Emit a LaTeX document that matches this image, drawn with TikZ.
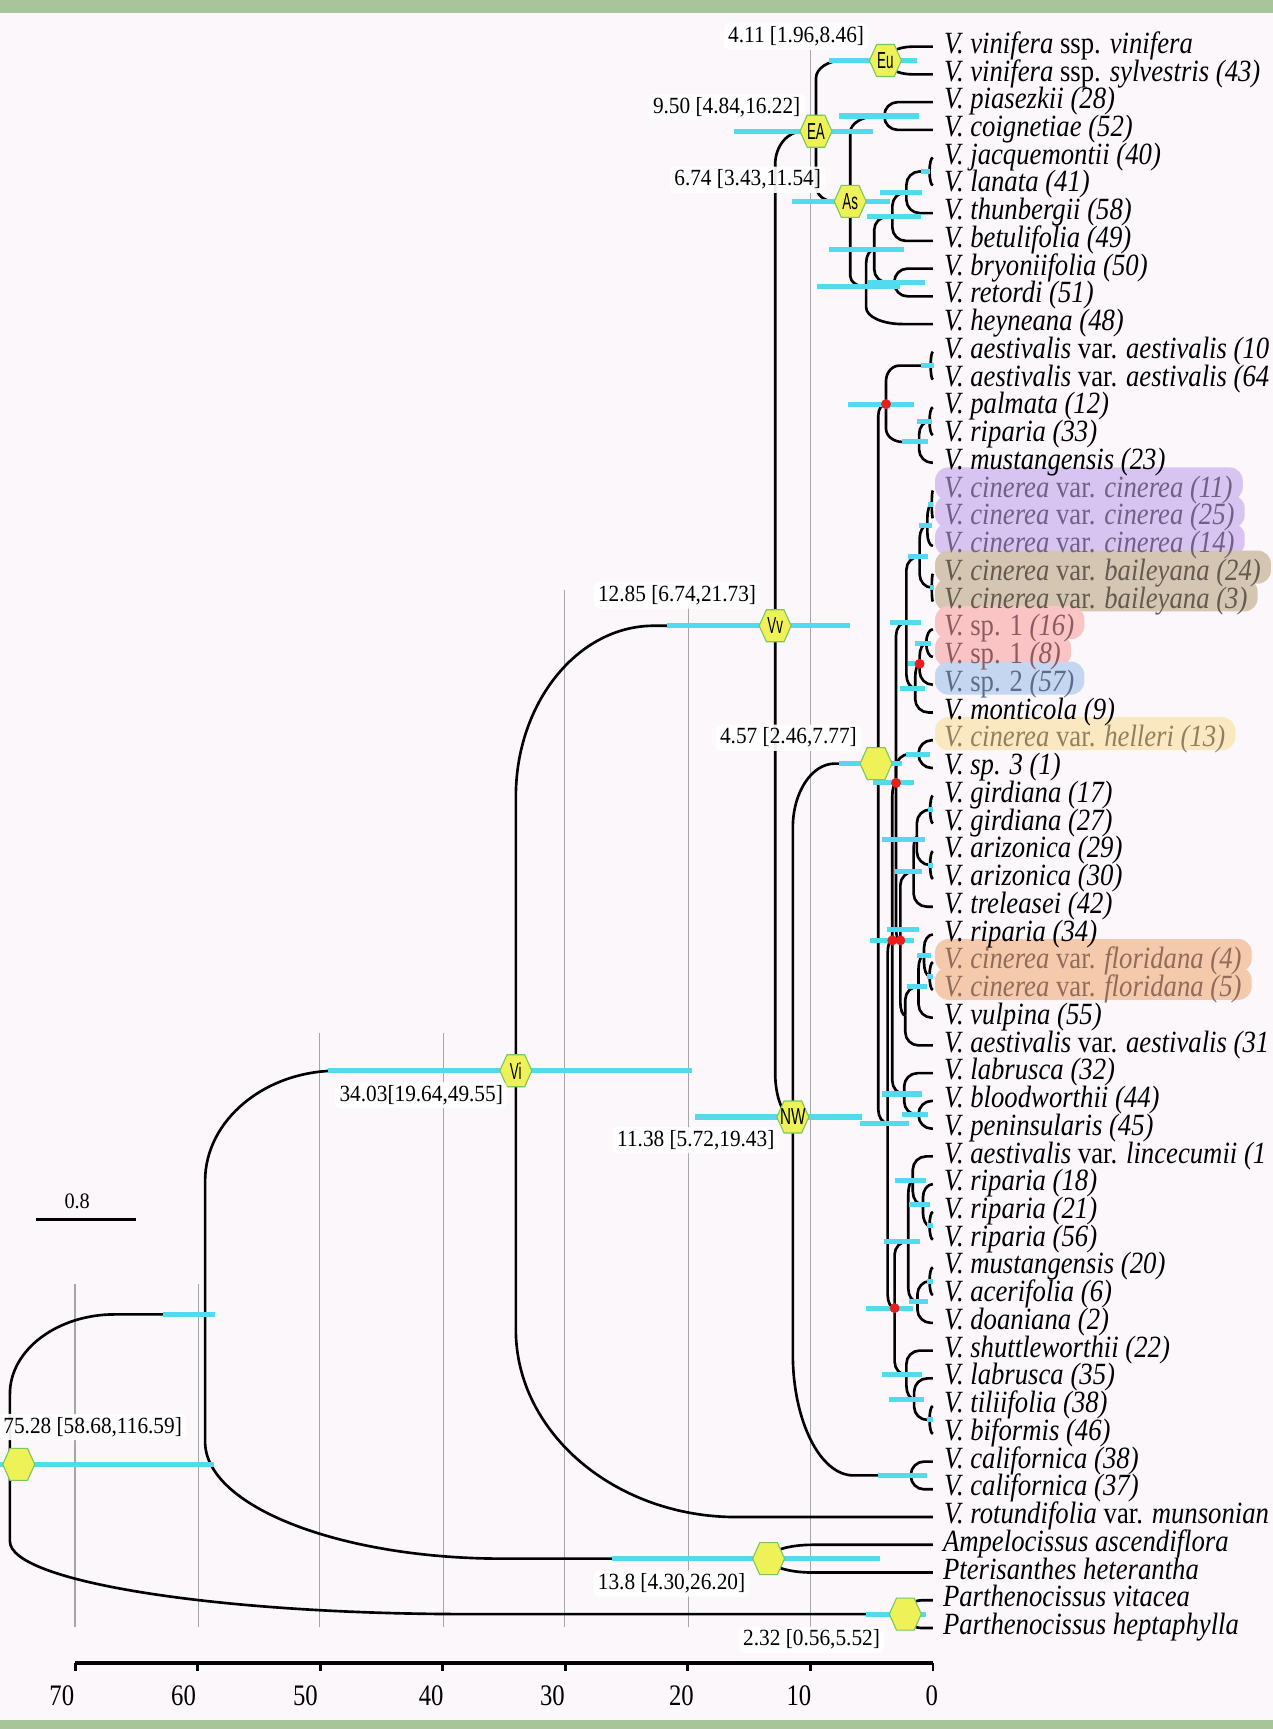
\documentclass[tikz,border=0pt]{standalone}
\usepackage{fontspec}
\setmainfont{Liberation Serif}
\newfontfamily\hexfont{Liberation Sans}
\usetikzlibrary{calc}
\pgfdeclarelayer{bg}
\pgfdeclarelayer{hl}
\pgfsetlayers{bg,hl,main}
\definecolor{bgc}{RGB}{252,247,251}
\definecolor{barg}{RGB}{168,196,154}
\definecolor{cib}{RGB}{82,218,238}
\definecolor{hexf}{RGB}{238,242,88}
\definecolor{hexd}{RGB}{120,200,90}
\definecolor{dotr}{RGB}{236,28,28}
\definecolor{gridc}{RGB}{165,165,172}
\definecolor{hlpur}{RGB}{216,196,240}
\definecolor{hltan}{RGB}{212,198,178}
\definecolor{hlpnk}{RGB}{250,196,196}
\definecolor{hlblu}{RGB}{196,214,240}
\definecolor{hlyel}{RGB}{250,232,192}
\definecolor{hlorg}{RGB}{245,202,172}
\definecolor{txpur}{RGB}{112,96,134}
\definecolor{txtan}{RGB}{100,90,80}
\definecolor{txpnk}{RGB}{140,90,96}
\definecolor{txblu}{RGB}{94,108,138}
\definecolor{txyel}{RGB}{145,128,96}
\definecolor{txorg}{RGB}{145,108,90}
\newcommand\itx[1]{\textit{#1}}
\newcommand\taxt[1]{\scalebox{0.865}[1]{#1}}
\newcommand\numt[1]{\scalebox{0.92}[1]{#1}}
\newcommand\hexat[1]{\filldraw[hexs] ($(#1)+(-14.5,0)$) -- ++(6.5,-14.5) -- ++(16,0) -- ++(6.5,14.5) -- ++(-6.5,14.5) -- ++(-16,0) -- cycle;}
\tikzset{
  blk/.style={line width=2.4pt, line join=round},
  ci/.style={cib, line width=4.6pt},
  br/.style 2 args={to path={let \p1=(\tikztostart), \p2=(\tikztotarget),
      \n1={ifthenelse(\y2>\y1,1,-1)}, \n2={min(#1,\x2-\x1)}, \n3={min(#2,abs(\y2-\y1))} in
      -- (\x1,{\y2-(\n1)*\n3}) .. controls (\x1,{\y2-(\n1)*\n3*0.45}) and ({\x1+\n2*0.45},\y2) .. ({\x1+\n2},\y2) -- (\tikztotarget)}},
  taxon/.style={anchor=base west, inner sep=0pt, font=\fontsize{28}{30}\selectfont},
  numlbl/.style={fill=white, fill opacity=0.92, text opacity=1, rounded corners=5pt, inner xsep=4pt, inner ysep=3pt, font=\fontsize{21}{23}\selectfont},
  hexlbl/.style={inner sep=0pt, font=\hexfont\fontsize{21}{21}\selectfont},
  axlbl/.style={anchor=base, inner sep=0pt, font=\fontsize{27}{29}\selectfont},
  hexs/.style={fill=hexf, draw=hexd, line width=1pt},
  reddot/.style={circle, fill=dotr, inner sep=0pt, minimum size=9pt},
}
\begin{document}
\begin{tikzpicture}[x=1pt,y=-1pt]
\useasboundingbox (0,0) rectangle (1154,1568);
\begin{pgfonlayer}{bg}
\fill[bgc] (0,0) rectangle (1154,1568);
\fill[barg] (0,0) rectangle (1154,11.5);
\fill[barg] (0,1560) rectangle (1154,1568);
\foreach \gx/\gy in {68/1164,180/1164,290/937,402/937,512/535,624/535,735/45}
  \draw[gridc, line width=1pt] (\gx,\gy) -- (\gx,1475.5);
\end{pgfonlayer}
% tips
\foreach \i in {1,...,58} {\coordinate (t\i) at (846,{42.3+(\i-1)*25.16});}
% internal nodes
\coordinate (R0) at (9,1328);
\coordinate (hR) at (17,1328);
\coordinate (N59) at (186,1192);
\coordinate (Np) at (821,1463.8);
\coordinate (Vi) at (467.8,971);
\coordinate (N138) at (697,1413.5);
\coordinate (Vv) at (703,567.5);
\coordinate (EA) at (740,119);
\coordinate (NW) at (719,1013);
\coordinate (Eu) at (803,54.9);
\coordinate (As) at (771,182.6);
\coordinate (PC) at (802,105.2);
\coordinate (AsB) at (785.5,260.1);
\coordinate (N226) at (792.8,226.3);
\coordinate (JLTB) at (809.3,196.5);
\coordinate (JLT) at (822,174.5);
\coordinate (JL) at (843,155.5);
\coordinate (BR) at (811,256.2);
\coordinate (N457) at (796.5,692.5);
\coordinate (hN457) at (794.5,692.5);
\coordinate (CAL) at (826,1338);
\coordinate (N366) at (803.5,366.5);
\coordinate (A1064) at (844,331.6);
\coordinate (PRM) at (833.5,400.8);
\coordinate (PR) at (843,382);
\coordinate (X) at (805,1018.5);
\coordinate (Y) at (809.2,852);
\coordinate (Z) at (812.6,710);
\coordinate (CBSM) at (822,564.3);
\coordinate (CB) at (834,504.6);
\coordinate (C3) at (841,476.3);
\coordinate (C1125) at (845,457.4);
\coordinate (B) at (845,532.9);
\coordinate (SM) at (830,624);
\coordinate (SP) at (834,602);
\coordinate (SS) at (840,583.2);
\coordinate (HS) at (833,683.9);
\coordinate (Q) at (816.5,854);
\coordinate (GAT) at (828.5,790.6);
\coordinate (GA) at (831.5,759);
\coordinate (GG) at (843.5,734.2);
\coordinate (AA) at (843.5,784.5);
\coordinate (RFVA) at (821,921);
\coordinate (RFV) at (833,894.5);
\coordinate (RF) at (838,866.3);
\coordinate (F45) at (843,885.2);
\coordinate (LBP) at (820,992.1);
\coordinate (BP) at (833,1011);
\coordinate (Rr) at (811.3,1186.3);
\coordinate (LRMAD) at (823.7,1125.7);
\coordinate (LR) at (827.8,1070.7);
\coordinate (R1856) at (837,1092.7);
\coordinate (R2156) at (843,1111.6);
\coordinate (MAD) at (832,1180.7);
\coordinate (MA) at (843,1161.9);
\coordinate (SLTB) at (822,1246.8);
\coordinate (LTB) at (829,1268.8);
\coordinate (TB) at (843,1287.7);
% branches with default curve
\foreach \a/\b in {PC/t3,PC/t4,AsB/N226,N226/JLTB,N226/BR,JLTB/JLT,JLTB/t8,JLT/JL,JLT/t7,JL/t5,JL/t6,BR/t9,BR/t10,
  CAL/t52,CAL/t53,A1064/t12,A1064/t13,PRM/PR,PRM/t16,PR/t14,PR/t15,X/Y,X/Rr,Y/Z,Y/LBP,Z/CBSM,Z/HS,Z/Q,
  CBSM/CB,CBSM/SM,CB/C3,CB/B,C3/C1125,C3/t19,C1125/t17,C1125/t18,B/t20,B/t21,SM/SP,SM/t25,SP/SS,SP/t24,SS/t22,SS/t23,
  HS/t26,HS/t27,Q/GAT,Q/RFVA,GAT/GA,GAT/t32,GA/GG,GA/AA,GG/t28,GG/t29,AA/t30,AA/t31,RFVA/RFV,RFVA/t37,RFV/RF,RFV/t36,
  RF/t33,RF/F45,F45/t34,F45/t35,LBP/t38,LBP/BP,BP/t39,BP/t40,Rr/LRMAD,Rr/SLTB,LRMAD/LR,LRMAD/MAD,LR/t41,LR/R1856,
  R1856/t42,R1856/R2156,R2156/t43,R2156/t44,MAD/MA,MAD/t47,MA/t45,MA/t46,SLTB/t48,SLTB/LTB,LTB/t49,LTB/TB,TB/t50,TB/t51}
  \draw[blk] (\a) to[br={12}{12}] (\b);
% branches with own curve sizes
\foreach \a/\b/\rx/\ry in {Eu/t1/25/12.6,Eu/t2/25/12.6,EA/Eu/24/16,EA/As/16/14,As/PC/25/15,As/AsB/15/10,AsB/t11/33/15,
  Vv/EA/25/30,Vv/NW/16/40,NW/N457/38/58,NW/CAL/55/110,N457/N366/7/10,N457/X/9/12,N366/A1064/12/14,N366/PRM/15/12,
  Vi/Vv/125/155,Vi/t54/200/170,N59/Vi/120/100,N59/N138/270/106,N138/t55/40/12.6,N138/t56/40/12.6,
  R0/N59/95/72,R0/Np/415/66,Np/t57/15/12.6,Np/t58/15/12.6}
  \draw[blk] (\a) to[br={\rx}{\ry}] (\b);
% confidence bars
\foreach \a/\b/\y in {0/194/1328,148/195/1192,297/628/970.5,604.6/771/567.5,666/792/119,752/832/55,718/807/183,
  761/833/105.2,835/843/155.5,798/836/174.5,786/835/196.5,752/820/226.3,787/839/256.2,741/816/260.1,
  630/782/1013,780/824/1018.5,761/818/692.5,769/829/366.5,835/847/331.6,832/845/382,818/842/400.8,
  842/846/457.4,833/845/476.3,823.5/841.6/504.6,843/847/532.9,807/835/564.3,830/844/583.2,823/836/602,
  816.5/839/624,822/843/683.9,792/828.6/710,842/846/734.2,800/839/761,842/846/784.5,812/836/790.6,
  804/833/843,789/829/852.8,831.5/844/866.3,841/846/885.2,822.5/840.7/894.5,800/836/992.1,818/842/1011,
  812/839.5/1070.7,824/843/1092.7,841/846/1111.6,802/834.5/1125.7,841/846/1161.9,824/842/1180.7,
  785.5/827.6/1186.3,800/836.5/1246.8,806/838/1268.8,841/846/1287.7,796.5/841/1338,555/798/1413.5,785/840/1463.8}
  \draw[ci] (\a,\y) -- (\b,\y);
% red dots
\node[reddot] (dN366) at (N366) {};
\node[reddot] (dSP) at (SP) {};
\node[reddot] (dZ) at (Z) {};
\node[reddot] (dY) at (809.2,852.8) {};
\node[reddot] (dQ) at (816.5,852.8) {};
\node[reddot] (dR) at (Rr) {};
% hexagons
\hexat{hR}
\hexat{Vi}\hexat{Vv}\hexat{EA}\hexat{Eu}\hexat{As}\hexat{NW}\hexat{hN457}\hexat{N138}\hexat{Np}
\node[hexlbl] (lVi) at (Vi) {\scalebox{0.58}[1]{Vi}};
\node[hexlbl] (lVv) at (Vv) {\scalebox{0.58}[1]{Vv}};
\node[hexlbl] (lEA) at (EA) {\scalebox{0.58}[1]{EA}};
\node[hexlbl] (lEu) at (Eu) {\scalebox{0.58}[1]{Eu}};
\node[hexlbl] (lAs) at (As) {\scalebox{0.58}[1]{As}};
\node[hexlbl] (lNW) at (NW) {\scalebox{0.66}[1]{NW}};
% age labels
\node[numlbl] (lb411) at (722,33) {\numt{4.11 [1.96,8.46]}};
\node[numlbl] (lb950) at (659,97) {\numt{9.50 [4.84,16.22]}};
\node[numlbl] (lb674) at (678,163) {\numt{6.74 [3.43,11.54]}};
\node[numlbl] (lb1285) at (614,540) {\numt{12.85 [6.74,21.73]}};
\node[numlbl] (lb457) at (715,669) {\numt{4.57 [2.46,7.77]}};
\node[numlbl] (lb3403) at (382,993) {\numt{34.03[19.64,49.55]}};
\node[numlbl] (lb1138) at (631,1034) {\numt{11.38 [5.72,19.43]}};
\node[numlbl] (lb7528) at (84,1294) {\numt{75.28 [58.68,116.59]}};
\node[numlbl] (lb138) at (609,1436) {\numt{13.8 [4.30,26.20]}};
\node[numlbl] (lb232) at (736,1487) {\numt{2.32 [0.56,5.52]}};
% scale bar
\coordinate (sb1) at (33,1106);
\coordinate (sb2) at (123,1106);
\draw[line width=3pt] (sb1) -- (sb2);
\node[anchor=base, inner sep=0pt, font=\fontsize{20}{22}\selectfont] (sbl) at (70,1096) {\numt{0.8}};
% axis
\coordinate (ax0) at (846,1508);
\coordinate (ax70) at (68.3,1508);
\draw[line width=3pt] (ax70) -- (ax0);
\foreach \tx in {68.3,179.4,290.5,401.6,512.7,623.8,734.9,846}
  \draw[line width=2.5pt] (\tx,1508) -- (\tx,1515);
\foreach \lx/\lt in {56/70,166.5/60,277/50,391/40,501/30,618/20,724.5/10,845/0}
  \node[axlbl] (al\lt) at (\lx,1546.5) {\scalebox{0.83}[1]{\lt}};
% taxa
\node[taxon] (L1) at ($(t1)+(10,6)$) {\taxt{\itx{V. vinifera} ssp. \itx{vinifera}}};
\node[taxon] (L2) at ($(t2)+(10,6)$) {\taxt{\itx{V. vinifera} ssp. \itx{sylvestris (43)}}};
\node[taxon] (L3) at ($(t3)+(10,6)$) {\taxt{\itx{V. piasezkii (28)}}};
\node[taxon] (L4) at ($(t4)+(10,6)$) {\taxt{\itx{V. coignetiae (52)}}};
\node[taxon] (L5) at ($(t5)+(10,6)$) {\taxt{\itx{V. jacquemontii (40)}}};
\node[taxon] (L6) at ($(t6)+(10,6)$) {\taxt{\itx{V. lanata (41)}}};
\node[taxon] (L7) at ($(t7)+(10,6)$) {\taxt{\itx{V. thunbergii (58)}}};
\node[taxon] (L8) at ($(t8)+(10,6)$) {\taxt{\itx{V. betulifolia (49)}}};
\node[taxon] (L9) at ($(t9)+(10,6)$) {\taxt{\itx{V. bryoniifolia (50)}}};
\node[taxon] (L10) at ($(t10)+(10,6)$) {\taxt{\itx{V. retordi (51)}}};
\node[taxon] (L11) at ($(t11)+(10,6)$) {\taxt{\itx{V. heyneana (48)}}};
\node[taxon] (L12) at ($(t12)+(10,6)$) {\taxt{\itx{V. aestivalis} var. \itx{aestivalis (10}}};
\node[taxon] (L13) at ($(t13)+(10,6)$) {\taxt{\itx{V. aestivalis} var. \itx{aestivalis (64}}};
\node[taxon] (L14) at ($(t14)+(10,6)$) {\taxt{\itx{V. palmata (12)}}};
\node[taxon] (L15) at ($(t15)+(10,6)$) {\taxt{\itx{V. riparia (33)}}};
\node[taxon] (L16) at ($(t16)+(10,6)$) {\taxt{\itx{V. mustangensis (23)}}};
\node[taxon, text=txpur] (L17) at ($(t17)+(10,6)$) {\taxt{\itx{V. cinerea} var. \itx{cinerea (11)}}};
\node[taxon, text=txpur] (L18) at ($(t18)+(10,6)$) {\taxt{\itx{V. cinerea} var. \itx{cinerea (25)}}};
\node[taxon, text=txpur] (L19) at ($(t19)+(10,6)$) {\taxt{\itx{V. cinerea} var. \itx{cinerea (14)}}};
\node[taxon, text=txtan] (L20) at ($(t20)+(10,6)$) {\taxt{\itx{V. cinerea} var. \itx{baileyana (24)}}};
\node[taxon, text=txtan] (L21) at ($(t21)+(10,6)$) {\taxt{\itx{V. cinerea} var. \itx{baileyana (3)}}};
\node[taxon, text=txpnk] (L22) at ($(t22)+(10,6)$) {\taxt{\itx{V.} sp. 1 \itx{(16)}}};
\node[taxon, text=txpnk] (L23) at ($(t23)+(10,6)$) {\taxt{\itx{V.} sp. 1 \itx{(8)}}};
\node[taxon, text=txblu] (L24) at ($(t24)+(10,6)$) {\taxt{\itx{V.} sp. 2 \itx{(57)}}};
\node[taxon] (L25) at ($(t25)+(10,6)$) {\taxt{\itx{V. monticola (9)}}};
\node[taxon, text=txyel] (L26) at ($(t26)+(10,6)$) {\taxt{\itx{V. cinerea} var. \itx{helleri (13)}}};
\node[taxon] (L27) at ($(t27)+(10,6)$) {\taxt{\itx{V. sp. 3 (1)}}};
\node[taxon] (L28) at ($(t28)+(10,6)$) {\taxt{\itx{V. girdiana (17)}}};
\node[taxon] (L29) at ($(t29)+(10,6)$) {\taxt{\itx{V. girdiana (27)}}};
\node[taxon] (L30) at ($(t30)+(10,6)$) {\taxt{\itx{V. arizonica (29)}}};
\node[taxon] (L31) at ($(t31)+(10,6)$) {\taxt{\itx{V. arizonica (30)}}};
\node[taxon] (L32) at ($(t32)+(10,6)$) {\taxt{\itx{V. treleasei (42)}}};
\node[taxon] (L33) at ($(t33)+(10,6)$) {\taxt{\itx{V. riparia (34)}}};
\node[taxon, text=txorg] (L34) at ($(t34)+(10,6)$) {\taxt{\itx{V. cinerea} var. \itx{floridana (4)}}};
\node[taxon, text=txorg] (L35) at ($(t35)+(10,6)$) {\taxt{\itx{V. cinerea} var. \itx{floridana (5)}}};
\node[taxon] (L36) at ($(t36)+(10,6)$) {\taxt{\itx{V. vulpina (55)}}};
\node[taxon] (L37) at ($(t37)+(10,6)$) {\taxt{\itx{V. aestivalis} var. \itx{aestivalis (31}}};
\node[taxon] (L38) at ($(t38)+(10,6)$) {\taxt{\itx{V. labrusca (32)}}};
\node[taxon] (L39) at ($(t39)+(10,6)$) {\taxt{\itx{V. bloodworthii (44)}}};
\node[taxon] (L40) at ($(t40)+(10,6)$) {\taxt{\itx{V. peninsularis (45)}}};
\node[taxon] (L41) at ($(t41)+(10,6)$) {\taxt{\itx{V. aestivalis} var. \itx{lincecumii (1}}};
\node[taxon] (L42) at ($(t42)+(10,6)$) {\taxt{\itx{V. riparia (18)}}};
\node[taxon] (L43) at ($(t43)+(10,6)$) {\taxt{\itx{V. riparia (21)}}};
\node[taxon] (L44) at ($(t44)+(10,6)$) {\taxt{\itx{V. riparia (56)}}};
\node[taxon] (L45) at ($(t45)+(10,6)$) {\taxt{\itx{V. mustangensis (20)}}};
\node[taxon] (L46) at ($(t46)+(10,6)$) {\taxt{\itx{V. acerifolia (6)}}};
\node[taxon] (L47) at ($(t47)+(10,6)$) {\taxt{\itx{V. doaniana (2)}}};
\node[taxon] (L48) at ($(t48)+(10,6)$) {\taxt{\itx{V. shuttleworthii (22)}}};
\node[taxon] (L49) at ($(t49)+(10,6)$) {\taxt{\itx{V. labrusca (35)}}};
\node[taxon] (L50) at ($(t50)+(10,6)$) {\taxt{\itx{V. tiliifolia (38)}}};
\node[taxon] (L51) at ($(t51)+(10,6)$) {\taxt{\itx{V. biformis (46)}}};
\node[taxon] (L52) at ($(t52)+(10,6)$) {\taxt{\itx{V. californica (38)}}};
\node[taxon] (L53) at ($(t53)+(10,6)$) {\taxt{\itx{V. californica (37)}}};
\node[taxon] (L54) at ($(t54)+(10,6)$) {\taxt{\itx{V. rotundifolia} var. \itx{munsonian}}};
\node[taxon] (L55) at ($(t55)+(9,6)$) {\taxt{\itx{Ampelocissus ascendiflora}}};
\node[taxon] (L56) at ($(t56)+(9,6)$) {\taxt{\itx{Pterisanthes heterantha}}};
\node[taxon] (L57) at ($(t57)+(9,6)$) {\taxt{\itx{Parthenocissus vitacea}}};
\node[taxon] (L58) at ($(t58)+(9,6)$) {\taxt{\itx{Parthenocissus heptaphylla}}};
% highlights
\begin{pgfonlayer}{hl}
\foreach \n/\c in {17/hlpur,18/hlpur,19/hlpur,20/hltan,21/hltan,22/hlpnk,23/hlpnk,24/hlblu,26/hlyel,34/hlorg,35/hlorg}
  \fill[\c, rounded corners=12pt] ([xshift=-8pt,yshift=27pt]L\n.base west) rectangle ([xshift=9pt,yshift=-3pt]L\n.base east);
\end{pgfonlayer}
\end{tikzpicture}
\end{document}
